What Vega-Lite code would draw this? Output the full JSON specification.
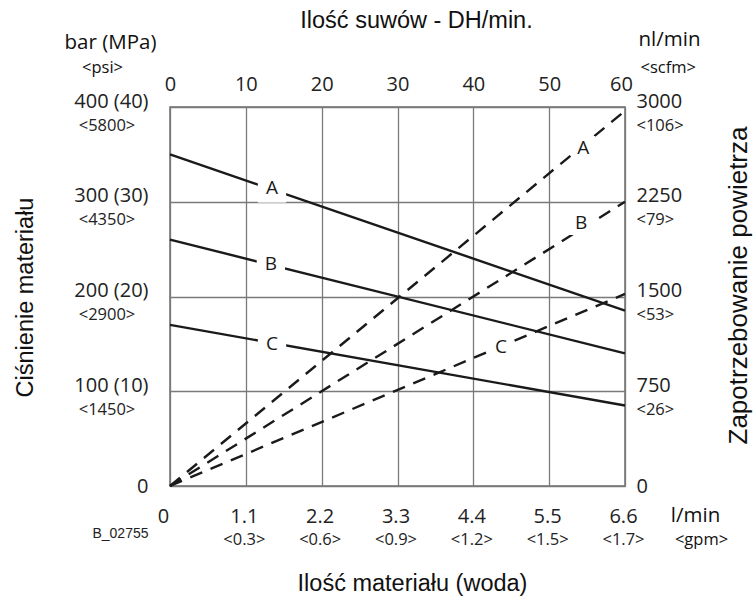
{
  "$schema": "https://vega.github.io/schema/vega-lite/v6.json",
  "width": 455,
  "height": 379,
  "autosize": {"type": "none"},
  "padding": {"left": 170, "top": 107, "right": 129, "bottom": 114},
  "background": "white",
  "config": {
    "view": {"stroke": "#6e6e6e", "strokeWidth": 1.5},
    "axis": {
      "ticks": false,
      "tickSize": 0,
      "domain": false,
      "grid": false,
      "labelFont": "Open Sans",
      "labelColor": "#222222",
      "labelFontSize": 20,
      "labelOverlap": false,
      "labelFlush": false,
      "titleColor": "#111111",
      "titleFontWeight": "normal",
      "gridColor": "#7a7a7a",
      "gridWidth": 1.3,
      "gridOpacity": 1
    }
  },
  "datasets": {
    "solid": [
      {"series": "A", "dh": 0, "bar": 350},
      {"series": "A", "dh": 60, "bar": 185},
      {"series": "B", "dh": 0, "bar": 260},
      {"series": "B", "dh": 60, "bar": 140},
      {"series": "C", "dh": 0, "bar": 170},
      {"series": "C", "dh": 60, "bar": 85}
    ],
    "dashed": [
      {"series": "A", "dh": 0, "nl": 0},
      {"series": "A", "dh": 60, "nl": 2970},
      {"series": "B", "dh": 0, "nl": 0},
      {"series": "B", "dh": 60, "nl": 2250},
      {"series": "C", "dh": 0, "nl": 0},
      {"series": "C", "dh": 60, "nl": 1520}
    ],
    "solidLabels": [
      {"series": "A", "dh": 13.45, "bar": 314},
      {"series": "B", "dh": 13.3, "bar": 234},
      {"series": "C", "dh": 13.45, "bar": 150}
    ],
    "dashedLabels": [
      {"series": "A", "dh": 54.5, "nl": 2675},
      {"series": "B", "dh": 54.2, "nl": 2082},
      {"series": "C", "dh": 43.65, "nl": 1100}
    ]
  },
  "resolve": {
    "scale": {"x": "independent", "y": "independent"},
    "axis": {"x": "independent", "y": "independent"}
  },
  "layer": [
    {
      "data": {"name": "solid"},
      "mark": {"type": "line", "color": "#1a1a1a", "strokeWidth": 2.4},
      "encoding": {
        "x": {
          "field": "dh", "type": "quantitative",
          "scale": {"domain": [0, 60], "nice": false, "zero": false},
          "axis": {
            "orient": "top", "values": [0, 10, 20, 30, 40, 50, 60], "grid": true,
            "labelAlign": "center", "labelBaseline": "alphabetic", "labelPadding": 17,
            "labelOffset": {"condition": {"test": "datum.value === 60", "value": -4}, "value": 0},
            "title": "Ilość suwów - DH/min.", "titleX": 246, "titleY": -80,
            "titleAlign": "center", "titleBaseline": "alphabetic", "titleAngle": 0,
            "titleFont": "Liberation Sans", "titleFontSize": 23.5
          }
        },
        "y": {
          "field": "bar", "type": "quantitative",
          "scale": {"domain": [0, 400], "nice": false, "zero": false},
          "axis": {
            "orient": "left", "values": [0, 100, 200, 300, 400], "grid": true,
            "labelExpr": "datum.value === 0 ? '0' : datum.value + ' (' + datum.value / 10 + ')'",
            "labelAlign": "right",
            "labelBaseline": {"condition": {"test": "datum.value === 0", "value": "middle"}, "value": "alphabetic"},
            "labelPadding": 22,
            "title": "bar (MPa)", "titleX": -60, "titleY": -59,
            "titleAlign": "center", "titleBaseline": "alphabetic", "titleAngle": 0,
            "titleFont": "Open Sans", "titleFontSize": 20.5
          }
        },
        "detail": {"field": "series"}
      }
    },
    {
      "data": {"name": "dashed"},
      "mark": {"type": "line", "color": "#1a1a1a", "strokeWidth": 2.4, "strokeDash": [13, 9]},
      "encoding": {
        "x": {
          "field": "dh", "type": "quantitative",
          "scale": {"domain": [0, 60], "nice": false, "zero": false},
          "axis": {
            "orient": "bottom", "values": [0, 10, 20, 30, 40, 50, 60],
            "labelExpr": "datum.value === 0 ? '0' : format(datum.value * 0.11, '.1f')",
            "labelAlign": "center", "labelBaseline": "alphabetic", "labelPadding": 36,
            "labelOffset": {"condition": {"test": "datum.value === 0", "value": -7}, "value": -2},
            "title": "Ilość materiału (woda)", "titleX": 242, "titleY": 104,
            "titleAlign": "center", "titleBaseline": "alphabetic", "titleAngle": 0,
            "titleFont": "Liberation Sans", "titleFontSize": 23.5
          }
        },
        "y": {
          "field": "nl", "type": "quantitative",
          "scale": {"domain": [0, 3000], "nice": false, "zero": false},
          "axis": {
            "orient": "right", "values": [0, 750, 1500, 2250, 3000], "format": "d",
            "labelAlign": "left",
            "labelBaseline": {"condition": {"test": "datum.value === 0", "value": "middle"}, "value": "alphabetic"},
            "labelPadding": 11,
            "title": "nl/min", "titleX": 13, "titleY": -62,
            "titleAlign": "left", "titleBaseline": "alphabetic", "titleAngle": 0,
            "titleFont": "Open Sans", "titleFontSize": 20.5
          }
        },
        "detail": {"field": "series"}
      }
    },
    {
      "data": {"name": "solidLabels"},
      "mark": {"type": "point", "shape": "square", "filled": true, "color": "white", "opacity": 1, "size": 800, "strokeWidth": 0},
      "encoding": {
        "x": {
          "field": "dh", "type": "quantitative",
          "scale": {"domain": [0, 60], "nice": false, "zero": false},
          "axis": {
            "orient": "bottom", "values": [0, 10, 20, 30, 40, 50, 60],
            "labelExpr": "datum.value === 0 ? 'B_02755' : datum.value === 10 ? '<0.3>' : datum.value === 20 ? '<0.6>' : datum.value === 30 ? '<0.9>' : datum.value === 40 ? '<1.2>' : datum.value === 50 ? '<1.5>' : '<1.7>'",
            "labelFont": {"condition": {"test": "datum.value === 0", "value": "Liberation Sans"}, "value": "Open Sans"},
            "labelFontSize": {"condition": {"test": "datum.value === 0", "value": 14}, "value": 16.5},
            "labelAlign": {"condition": {"test": "datum.value === 0", "value": "right"}, "value": "center"},
            "labelOffset": {"condition": {"test": "datum.value === 0", "value": -22}, "value": -2},
            "labelPadding": {"condition": {"test": "datum.value === 0", "value": 51}, "value": 58},
            "labelBaseline": "alphabetic",
            "title": "<gpm>", "titleX": 531, "titleY": 58,
            "titleAlign": "center", "titleBaseline": "alphabetic", "titleAngle": 0,
            "titleFont": "Open Sans", "titleFontSize": 16.5
          }
        },
        "y": {
          "field": "bar", "type": "quantitative",
          "scale": {"domain": [0, 400], "nice": false, "zero": false},
          "axis": {
            "orient": "left", "values": [100, 200, 300, 400],
            "labelExpr": "'<' + datum.value * 14.5 + '>'",
            "labelAlign": "center", "labelBaseline": "alphabetic",
            "labelPadding": 63.5, "labelOffset": 23, "labelFontSize": 16.5,
            "title": "<psi>", "titleX": -68, "titleY": -35,
            "titleAlign": "center", "titleBaseline": "alphabetic", "titleAngle": 0,
            "titleFont": "Open Sans", "titleFontSize": 16.5
          }
        }
      }
    },
    {
      "data": {"name": "dashedLabels"},
      "mark": {"type": "point", "shape": "square", "filled": true, "color": "white", "opacity": 1, "size": 576, "strokeWidth": 0},
      "encoding": {
        "x": {
          "field": "dh", "type": "quantitative",
          "scale": {"domain": [0, 60], "nice": false, "zero": false},
          "axis": {
            "orient": "bottom", "labels": false,
            "title": "l/min", "titleX": 525, "titleY": 35,
            "titleAlign": "center", "titleBaseline": "alphabetic", "titleAngle": 0,
            "titleFont": "Open Sans", "titleFontSize": 20.5
          }
        },
        "y": {
          "field": "nl", "type": "quantitative",
          "scale": {"domain": [0, 3000], "nice": false, "zero": false},
          "axis": {
            "orient": "right", "values": [750, 1500, 2250, 3000],
            "labelExpr": "datum.value === 3000 ? '<106>' : datum.value === 2250 ? '<79>' : datum.value === 1500 ? '<53>' : '<26>'",
            "labelAlign": "left", "labelBaseline": "alphabetic",
            "labelPadding": 11, "labelOffset": 23, "labelFontSize": 16.5,
            "title": "<scfm>", "titleX": 15, "titleY": -35,
            "titleAlign": "left", "titleBaseline": "alphabetic", "titleAngle": 0,
            "titleFont": "Open Sans", "titleFontSize": 16.5
          }
        }
      }
    },
    {
      "data": {"name": "solidLabels"},
      "mark": {"type": "text", "font": "Open Sans", "fontSize": 19, "color": "#1a1a1a", "align": "center", "baseline": "middle"},
      "encoding": {
        "x": {
          "field": "dh", "type": "quantitative",
          "scale": {"domain": [0, 60], "nice": false, "zero": false},
          "axis": null
        },
        "y": {
          "field": "bar", "type": "quantitative",
          "scale": {"domain": [0, 400], "nice": false, "zero": false},
          "axis": {
            "orient": "left", "labels": false,
            "title": "Ciśnienie materiału", "titleX": -138, "titleY": 190,
            "titleAlign": "center", "titleBaseline": "alphabetic", "titleAngle": -90,
            "titleFont": "Liberation Sans", "titleFontSize": 23.5
          }
        },
        "text": {"field": "series"}
      }
    },
    {
      "data": {"name": "dashedLabels"},
      "mark": {"type": "text", "font": "Open Sans", "fontSize": 19, "color": "#1a1a1a", "align": "center", "baseline": "middle"},
      "encoding": {
        "x": {
          "field": "dh", "type": "quantitative",
          "scale": {"domain": [0, 60], "nice": false, "zero": false},
          "axis": null
        },
        "y": {
          "field": "nl", "type": "quantitative",
          "scale": {"domain": [0, 3000], "nice": false, "zero": false},
          "axis": {
            "orient": "right", "labels": false,
            "title": "Zapotrzebowanie powietrza", "titleX": 121, "titleY": 178,
            "titleAlign": "center", "titleBaseline": "alphabetic", "titleAngle": -90,
            "titleFont": "Liberation Sans", "titleFontSize": 26
          }
        },
        "text": {"field": "series"}
      }
    }
  ]
}
